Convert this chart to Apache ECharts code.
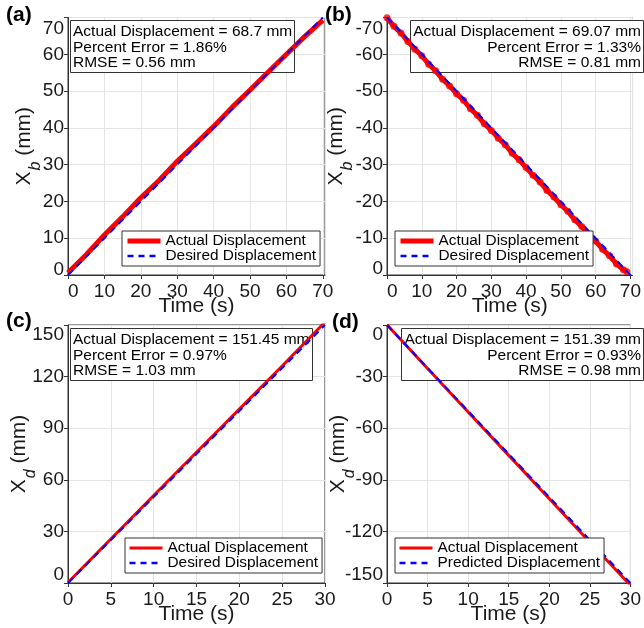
<!DOCTYPE html>
<html>
<head>
<meta charset="utf-8">
<script src="https://cdn.jsdelivr.net/npm/echarts@6.0.0/dist/echarts.min.js"></script>
<style>
html,body{margin:0;padding:0;background:#fff;}
#main{width:644px;height:628px;}
</style>
</head>
<body>
<div id="main"></div>
<script>
// ---------- data ----------
const timeA = [0, 5, 10, 15, 20, 25, 30, 35, 40, 45, 50, 55, 60, 65, 70];
const desiredA = [0, 5, 10, 15, 20, 25, 30, 35, 40, 45, 50, 55, 60, 65, 70];
const actualA = [0.6, 5.5, 10.9, 15.8, 21.0, 25.7, 30.9, 35.6, 40.4, 45.5, 50.3, 55.2, 60.0, 64.8, 69.3];

const timeDesB = [0, 5, 10, 15, 20, 25, 30, 35, 40, 45, 50, 55, 60, 65, 70];
const desiredB = [-70, -65, -60, -55, -50, -45, -40, -35, -30, -25, -20, -15, -10, -5, 0];
const timeB = [0, 2, 4, 6, 8, 10, 12, 14, 16, 18, 20, 22, 24, 26, 28, 30, 32, 34, 36, 38, 40, 42, 44, 46, 48, 50, 52, 54, 56, 58, 60, 62, 64, 66, 68, 69];
const actualB = [-69.9, -67.6, -65.8, -63.5, -61.4, -59.6, -57.3, -55.5, -53.2, -51.4, -49.3, -47.5, -45.2, -43.4, -41.1, -39.3, -37.2, -35.4, -33.1, -31.3, -29.2, -27.1, -25.3, -23.0, -21.2, -19.1, -17.3, -15.0, -13.2, -11.1, -9.2, -7.0, -5.2, -3.0, -1.4, -0.9];

const timeCD = [0, 5, 10, 15, 20, 25, 30];
const desiredC = [0, 25, 50, 75, 100, 125, 150];
const actualC = [0.3, 25.6, 50.9, 76.0, 101.1, 126.2, 151.7];
const predictedD = [0, -25, -50, -75, -100, -125, -150];
const actualD = [0.1, -25.3, -50.6, -75.8, -101.0, -126.3, -151.3];

const statsA = ['Actual Displacement = 68.7 mm', 'Percent Error = 1.86%', 'RMSE = 0.56 mm'];
const statsB = ['Actual Displacement = 69.07 mm', 'Percent Error = 1.33%', 'RMSE = 0.81 mm'];
const statsC = ['Actual Displacement = 151.45 mm', 'Percent Error = 0.97%', 'RMSE = 1.03 mm'];
const statsD = ['Actual Displacement = 151.39 mm', 'Percent Error = 0.93%', 'RMSE = 0.98 mm'];
const panelLabels = ['(a)', '(b)', '(c)', '(d)'];

// ---------- helpers ----------
const FONT = '"Liberation Sans", Arial, Helvetica, sans-serif';
const zip = (xs, ys) => xs.map((x, i) => [x, ys[i]]);
const RED = '#ff0000', BLUE = '#0000ff', AX = '#333333', TXT = '#1a1a1a';

function xAxis(gi, max, interval, showMax, alignMin) {
  return {
    type: 'value', gridIndex: gi, min: 0, max: max, interval: interval,
    name: 'Time (s)', nameLocation: 'middle', nameGap: 21, nameMoveOverlap: false,
    nameTextStyle: {fontSize: 21, color: TXT, fontFamily: FONT},
    axisLine: {show: true, onZero: false, lineStyle: {color: AX, width: 1}},
    axisTick: {show: true, inside: false, length: 4, lineStyle: {color: AX}},
    axisLabel: {fontSize: 19, color: TXT, fontFamily: FONT, margin: 7,
      showMaxLabel: showMax, showMinLabel: true, alignMinLabel: alignMin},
    splitLine: {show: true, lineStyle: {color: '#e4e4e4', width: 1}}
  };
}
// topPad / botPad: how far the end labels sit inside the plot (like the reference)
function yAxis(gi, min, max, interval, inverse, sub, topPad, botPad, gap) {
  const topVal = inverse ? min : max;
  const botVal = inverse ? max : min;
  return {
    type: 'value', gridIndex: gi, min: min, max: max, interval: interval, inverse: inverse,
    name: '{x|X}{s|' + sub + '}{x| (mm)}', nameLocation: 'middle', nameGap: gap, nameMoveOverlap: false,
    nameTextStyle: {fontSize: 21, color: TXT, fontFamily: FONT,
      rich: {
        x: {fontSize: 21, color: TXT, fontFamily: FONT, verticalAlign: 'top'},
        s: {fontSize: 16, color: TXT, fontFamily: FONT, fontStyle: 'italic', verticalAlign: 'top', padding: [14, 0, 0, 1]}
      }},
    axisLine: {show: true, onZero: false, lineStyle: {color: AX, width: 1}},
    axisTick: {show: true, inside: false, length: 4, lineStyle: {color: AX}},
    axisLabel: {fontSize: 19, color: TXT, fontFamily: FONT, margin: 4, showMinLabel: true, showMaxLabel: true,
      formatter: v => v === topVal ? '{t|' + v + '}' : (v === botVal ? '{b|' + v + '}' : '' + v),
      rich: {
        t: {fontSize: 19, color: TXT, fontFamily: FONT, padding: [topPad, 0, 0, 0]},
        b: {fontSize: 19, color: TXT, fontFamily: FONT, padding: [0, 0, botPad, 0]}
      }},
    splitLine: {show: true, lineStyle: {color: '#e4e4e4', width: 1}}
  };
}
function statBox(lines, pos) {
  return Object.assign({
    text: lines.join('\n'),
    textStyle: {fontSize: 15.5, fontWeight: 'normal', color: '#000', fontFamily: FONT, lineHeight: 15.5},
    padding: [4, 3, 2, 3], borderColor: AX, borderWidth: 1, backgroundColor: '#fff', z: 1
  }, pos);
}
function panelTitle(t, pos) {
  return Object.assign({
    text: t, textStyle: {fontSize: 21, fontWeight: 'bold', color: '#000', fontFamily: FONT}, padding: 0
  }, pos);
}
function legendBox(names, redWidth, pos) {
  return Object.assign({
    orient: 'vertical',
    data: [
      {name: names[0], lineStyle: {width: redWidth, color: RED, type: 'solid'}},
      {name: names[1], lineStyle: {width: 2.5, color: BLUE, type: [6, 5]}}
    ],
    formatter: n => n.slice(2), selectedMode: false,
    itemWidth: 33, itemHeight: 10, itemGap: 0, padding: [2.5, 4, 2.5, 3],
    itemStyle: {opacity: 0},
    borderColor: AX, borderWidth: 1, backgroundColor: '#fff',
    textStyle: {fontSize: 15.4, color: '#000', fontFamily: FONT, lineHeight: 15}
  }, pos);
}
function lineSeries(name, gi, data, color, width, dashed, z) {
  return {
    name: name, type: 'line', xAxisIndex: gi, yAxisIndex: gi, data: data,
    symbol: 'none', showSymbol: false, z: z,
    lineStyle: {color: color, width: width, type: dashed ? [7, 5] : 'solid'},
    itemStyle: {color: color}
  };
}

const option = {
  animation: false,
  backgroundColor: '#fff',
  textStyle: {fontFamily: FONT},
  grid: [
    {left: 68, top: 17.5, width: 257, height: 257.5, show: true, borderColor: AX, borderWidth: 1},
    {left: 387, top: 17.5, width: 257, height: 257.5, show: true, borderColor: AX, borderWidth: 1},
    {left: 68, top: 325, width: 257, height: 258, show: true, borderColor: AX, borderWidth: 1},
    {left: 387, top: 325, width: 257, height: 258, show: true, borderColor: AX, borderWidth: 1}
  ],
  xAxis: [
    xAxis(0, 70.6, 10, false, 'left'),
    xAxis(1, 70.6, 10, false, 'left'),
    xAxis(2, 30, 5, true, null),
    xAxis(3, 30, 5, true, null)
  ],
  yAxis: [
    yAxis(0, 0, 70, 10, false, 'b', 23, 10, 24),
    yAxis(1, -70, 0, 10, true, 'b', 23, 12, 31),
    yAxis(2, 0, 150, 30, false, 'd', 20, 16, 29),
    yAxis(3, -150, 0, 30, false, 'd', 20, 16, 29)
  ],
  title: [
    statBox(statsA, {left: 70, top: 20}),
    statBox(statsB, {left: 'right', top: 20}),
    statBox(statsC, {left: 70, top: 328}),
    statBox(statsD, {left: 'right', top: 328}),
    panelTitle(panelLabels[0], {left: 6, top: 5}),
    panelTitle(panelLabels[1], {left: 325, top: 5}),
    panelTitle(panelLabels[2], {left: 6, top: 311}),
    panelTitle(panelLabels[3], {left: 332, top: 312})
  ],
  legend: [
    legendBox(['a:Actual Displacement', 'a:Desired Displacement'], 5, {left: 122, top: 231}),
    legendBox(['b:Actual Displacement', 'b:Desired Displacement'], 5, {left: 395, top: 231}),
    legendBox(['c:Actual Displacement', 'c:Desired Displacement'], 3, {left: 125, top: 538}),
    legendBox(['d:Actual Displacement', 'd:Predicted Displacement'], 3, {left: 395, top: 538})
  ],
  series: [
    lineSeries('a:Actual Displacement', 0, zip(timeA, actualA), RED, 5, false, 2),
    lineSeries('a:Desired Displacement', 0, zip(timeA, desiredA), BLUE, 2, true, 3),
    lineSeries('b:Actual Displacement', 1, zip(timeB, actualB), RED, 5, false, 2),
    {name: 'b:markers', type: 'scatter', xAxisIndex: 1, yAxisIndex: 1, data: zip(timeB, actualB),
      symbol: 'circle', symbolSize: 7, itemStyle: {color: RED}, z: 2},
    lineSeries('b:Desired Displacement', 1, zip(timeDesB, desiredB), BLUE, 2, true, 3),
    lineSeries('c:Actual Displacement', 2, zip(timeCD, actualC), RED, 3, false, 2),
    lineSeries('c:Desired Displacement', 2, zip(timeCD, desiredC), BLUE, 2, true, 3),
    lineSeries('d:Actual Displacement', 3, zip(timeCD, actualD), RED, 3, false, 2),
    lineSeries('d:Predicted Displacement', 3, zip(timeCD, predictedD), BLUE, 2, true, 3)
  ]
};

const chart = echarts.init(document.getElementById('main'), null, {renderer: 'canvas'});
chart.setOption(option);
</script>
</body>
</html>
